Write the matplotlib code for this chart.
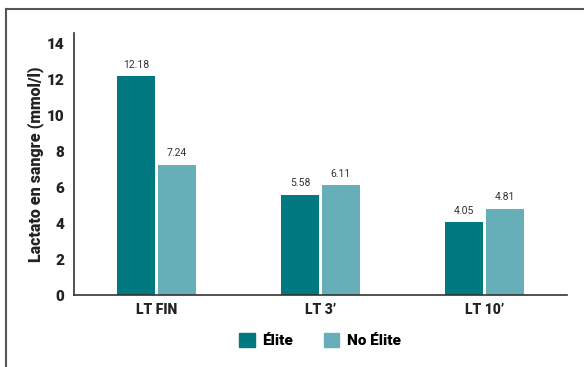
import numpy as np
import matplotlib.pyplot as plt
from matplotlib.lines import Line2D
from matplotlib.patches import Patch

plt.rcParams['font.family'] = ['Liberation Sans Narrow', 'Roboto', 'DejaVu Sans']

categories = ["LT FIN", "LT 3\u2019", "LT 10\u2019"]
elite = [12.18, 5.58, 4.05]
no_elite = [7.24, 6.11, 4.81]
series_names = ["\u00c9lite", "No \u00c9lite"]
colors = ["#007A80", "#66AFB8"]

fig = plt.figure(figsize=(5.84, 3.67), dpi=100)
ax = fig.add_axes([0.1267, 0.196, 0.8443, 0.714])

x = np.arange(len(categories))
w = 0.231
gap = 0.009
b1 = ax.bar(x - w / 2 - gap, elite, w, color=colors[0])
b2 = ax.bar(x + w / 2 + gap, no_elite, w, color=colors[1])

for bars, vals in [(b1, elite), (b2, no_elite)]:
    for rect, v in zip(bars, vals):
        ax.text(rect.get_x() + rect.get_width() / 2, v + 0.35, f"{v:.2f}",
                ha="center", va="bottom", fontsize=7.5, color="#333333")

ax.set_xlim(-0.5, 2.5)
ax.set_ylim(0, 14.56)
ax.set_yticks(range(0, 15, 2))
ax.set_xticks(x)
ax.set_xticklabels(categories, fontsize=10, fontweight="heavy", color="#222222")
ax.tick_params(axis="y", length=0, pad=7, labelsize=11, labelcolor="#222222")
ax.tick_params(axis="x", length=0, pad=6)
for lab in ax.get_yticklabels():
    lab.set_fontweight("heavy")
ax.set_ylabel("Lactato en sangre (mmol/l)", fontsize=11.5, fontweight="heavy",
              color="#222222", labelpad=2)

for s in ["top", "right"]:
    ax.spines[s].set_visible(False)
for s in ["left", "bottom"]:
    ax.spines[s].set_color("#333333")
    ax.spines[s].set_linewidth(1.2)

handles = [Patch(color=c) for c in colors]
fig.legend(handles, series_names, loc="center", bbox_to_anchor=(0.548, 0.071),
           ncol=2, frameon=False, handlelength=1.0, handleheight=1.0,
           columnspacing=2.0, handletextpad=0.5,
           prop={"weight": "heavy", "size": 11})

# outer frame: left and top edges only
fig.add_artist(Line2D([6 / 584, 6 / 584], [0, 1 - 9 / 367], color="#555555", lw=1.5))
fig.add_artist(Line2D([6 / 584, 1], [1 - 9 / 367, 1 - 9 / 367], color="#555555", lw=1.5))

fig.savefig("out.png", dpi=100)
